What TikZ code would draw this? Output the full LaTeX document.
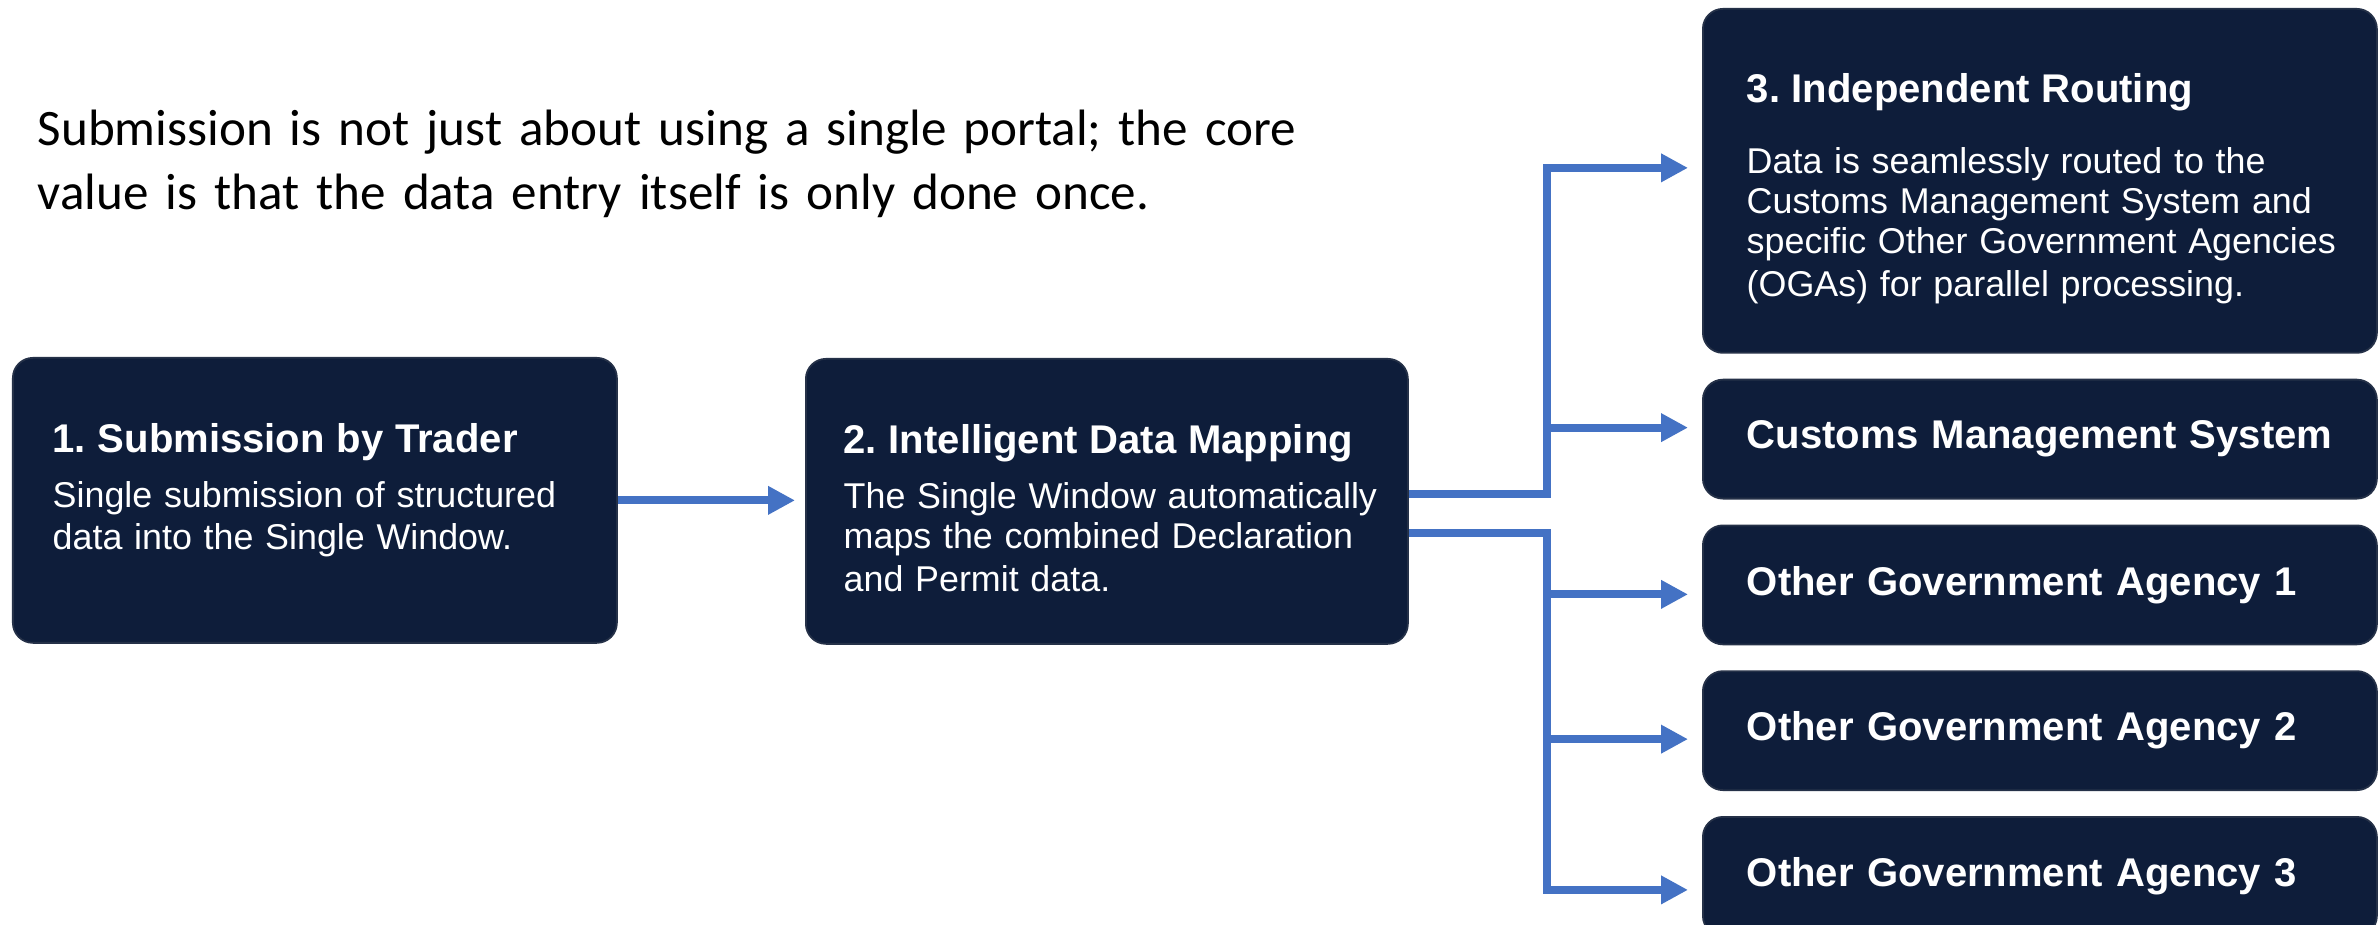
\documentclass[tikz,border=0pt]{standalone}
\usepackage{fontspec}
\setmainfont{Liberation Sans}
\newfontfamily\notefont{Carlito}
\usetikzlibrary{arrows.meta,positioning}
\definecolor{panelnavy}{HTML}{0E1D3A}
\definecolor{linkblue}{HTML}{4472C4}
\newcommand\paneltitle{\fontsize{11.4}{13.7}\selectfont\bfseries}
\newcommand\panelbody{\fontsize{10.2}{11.4}\selectfont\mdseries}
\frenchspacing

\begin{document}
\begin{tikzpicture}[
        panel/.style={fill=panelnavy, draw=panelnavy!80!gray, line width=0.5pt, rounded corners=0.2cm,
            minimum width=6.74cm, minimum height=1.19cm, inner sep=0pt},
        paneltext/.style={text=white, align=left, inner sep=0pt, text width=6.1cm, anchor=north west},
        tag/.style={panel, text=white, align=left, text width=5.86cm, inner xsep=0.44cm, font=\paneltitle},
        notetext/.style={anchor=north west, inner sep=0pt, text width=16cm, align=left,
            font=\notefont\fontsize{14.55}{18.2}\selectfont},
        link/.style={draw=linkblue, line width=0.08cm, -{Triangle[length=0.27cm, width=0.27cm]}, shorten >=0.14cm}
    ]
        \path[use as bounding box, fill=white] (0,0) rectangle (23.79,-9.25);

        \node[notetext] (note) at (0.37,-1.09) {Submission is not just about using a single portal; the core\\value is that the data entry itself is only done once.};

        \node[panel, minimum width=6.04cm, minimum height=2.85cm, anchor=north west] (trader) at (0.12,-3.57) {};
        \node[paneltext] (tradertxt) at ([xshift=0.40cm, yshift=-0.66cm]trader.north west) {\paneltitle 1. Submission by Trader\\[0.15cm]\panelbody Single submission of structured\\data into the Single Window.};

        \node[panel, minimum width=6.02cm, minimum height=2.85cm, anchor=north west] (mapping) at (8.05,-3.58) {};
        \node[paneltext] (mappingtxt) at ([xshift=0.38cm, yshift=-0.66cm]mapping.north west) {\paneltitle 2. Intelligent Data Mapping\\[0.15cm]\panelbody The Single Window automatically\\maps the combined Declaration\\and Permit data.};

        \node[panel, minimum height=3.44cm, anchor=north west] (routing) at (17.02,-0.08) {};
        \node[paneltext] (routingtxt) at ([xshift=0.44cm, yshift=-0.65cm]routing.north west) {\paneltitle 3. Independent Routing\\[0.31cm]\panelbody Data is seamlessly routed to the\\Customs Management System and\\specific Other Government Agencies\\(OGAs) for parallel processing.};

        \node[tag, below=0.25cm of routing] (cms) {Customs Management System};
        \node[tag, below=0.25cm of cms] (oga1) {Other Government Agency 1};
        \node[tag, below=0.25cm of oga1] (oga2) {Other Government Agency 2};
        \node[tag, below=0.25cm of oga2] (oga3) {Other Government Agency 3};

        \coordinate (fork) at (15.47,-5);
        \foreach \target/\dy in {routing/0.13, cms/0.115, oga1/-0.095, oga2/-0.085, oga3/-0.135}
            \coordinate (\target-in) at ([yshift=\dy cm]\target.west);

        \draw[link, shorten >=0.1cm] (trader.east) -- (trader.east -| mapping.west);
        \draw[link] ([yshift=0.075cm]mapping.east) -| (fork |- routing-in) -- (routing-in);
        \draw[link] (fork |- cms-in) -- (cms-in);
        \draw[link] ([yshift=-0.315cm]mapping.east) -| (fork |- oga3-in) -- (oga3-in);
        \foreach \target in {oga1, oga2}
            \draw[link] (fork |- \target-in) -- (\target-in);
    \end{tikzpicture}
\end{document}
